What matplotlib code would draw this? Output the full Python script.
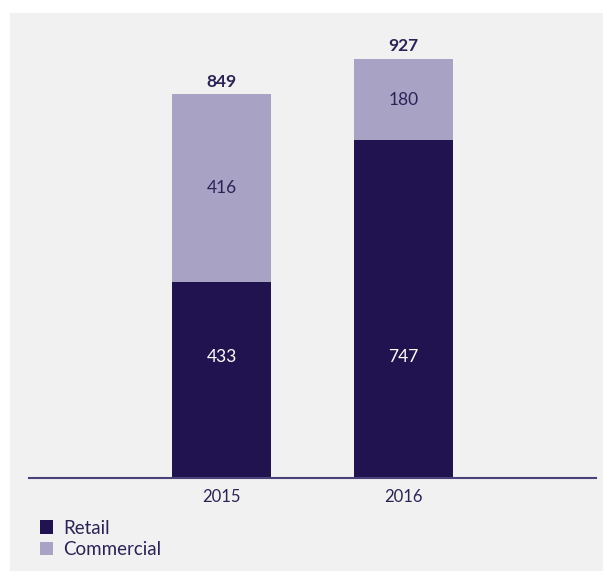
import matplotlib.pyplot as plt
from matplotlib.patches import Rectangle

years = ['2015', '2016']
retail = [433, 747]
commercial = [416, 180]
totals = [849, 927]

dark = '#20134f'
light = '#a8a3c4'
text_col = '#2b2258'
panel = '#f1f1f1'

plt.rcParams['font.family'] = ['Lato', 'DejaVu Sans']

W, H = 603, 571
fig = plt.figure(figsize=(W / 100, H / 100), dpi=100)
fig.patch.set_facecolor('white')

# grey panel behind everything
fig.patches.append(Rectangle((10 / W, 0), 1 - 10 / W, 1 - 13 / H, transform=fig.transFigure,
                             facecolor=panel, edgecolor='none', zorder=-1))

# axes in pixel coordinates: baseline at y=478, x from 29 to 596
ax_left, ax_right = 29, 596
ax_bottom, ax_top = H - 478, H - 30
ax = fig.add_axes([ax_left / W, ax_bottom / H, (ax_right - ax_left) / W, (ax_top - ax_bottom) / H])
ax.set_facecolor('none')

px_per_unit = 419 / 927
ax.set_ylim(0, (ax_top - ax_bottom) / px_per_unit)
ax.set_xlim(-1.058, 2.058)

x = range(len(years))
width = 0.544
ax.bar(x, retail, width, color=dark, label='Retail')
ax.bar(x, commercial, width, bottom=retail, color=light, label='Commercial')

for i in x:
    ax.text(i, 268, str(retail[i]), ha='center', va='center', color='white', fontsize=12.5)
    ax.text(i, retail[i] + commercial[i] / 2, str(commercial[i]), ha='center', va='center',
            color=text_col, fontsize=12.5)
    ax.text(i, totals[i] + 10, str(totals[i]), ha='center', va='bottom', color=text_col,
            fontsize=12.5, fontweight='bold')

for s in ['top', 'right', 'left']:
    ax.spines[s].set_visible(False)
ax.spines['bottom'].set_color('#4b427c')
ax.spines['bottom'].set_linewidth(1.5)
ax.set_yticks([])
ax.set_xticks(list(x))
ax.set_xticklabels(years, color=text_col, fontsize=12)
ax.tick_params(axis='x', length=0, pad=8)

leg = fig.legend(loc='upper left', bbox_to_anchor=(32 / W, 1 - 512 / H), frameon=False,
                 fontsize=13.5, handlelength=0.7, handleheight=0.7, handletextpad=0.55,
                 labelspacing=0.25, borderaxespad=0)
for t in leg.get_texts():
    t.set_color(text_col)

fig.savefig('out.png', dpi=100, facecolor=fig.get_facecolor())
